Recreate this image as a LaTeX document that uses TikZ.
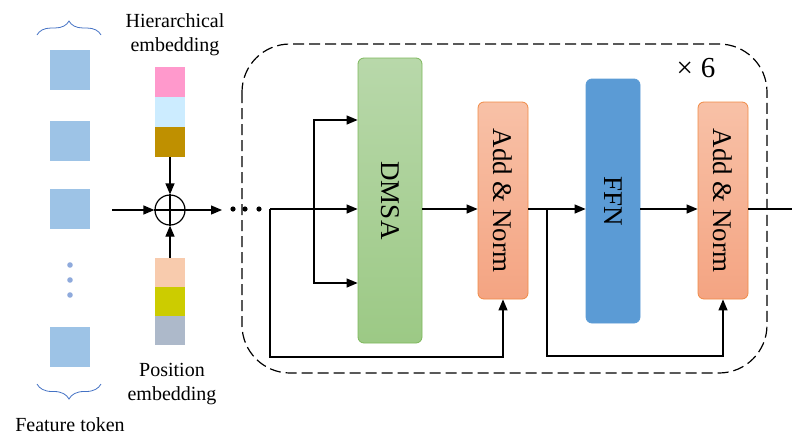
\documentclass[tikz,border=0pt]{standalone}
\usepackage{fontspec}
\setmainfont{Liberation Serif}
\usepackage{graphicx}
\usetikzlibrary{arrows.meta,decorations.pathreplacing}

\definecolor{tokblue}{HTML}{9DC3E6}
\definecolor{dotblue}{HTML}{8FAADC}
\definecolor{bracecol}{HTML}{4472C4}
\definecolor{hpink}{HTML}{FF99CC}
\definecolor{hsky}{HTML}{CCECFF}
\definecolor{hbrown}{HTML}{BF9000}
\definecolor{ppeach}{HTML}{F8CBAD}
\definecolor{polive}{HTML}{CCCC00}
\definecolor{pgrey}{HTML}{ADB9CA}
\definecolor{dmsatop}{HTML}{B8D8AA}
\definecolor{dmsabot}{HTML}{9CC985}
\definecolor{dmsaline}{HTML}{7DB85B}
\definecolor{normtop}{HTML}{F8C1A7}
\definecolor{normbot}{HTML}{F4A482}
\definecolor{normline}{HTML}{F08A45}
\definecolor{ffnblue}{HTML}{5B9BD5}

\tikzset{
  token/.style={fill=tokblue, minimum width=40pt, minimum height=40pt, inner sep=0pt},
  cell/.style={minimum width=30pt, minimum height=30pt, inner sep=0pt},
  block/.style={rounded corners=6pt, inner sep=0pt, line width=0.8pt, font=\fontsize{27}{32}\selectfont},
  normblock/.style={block, draw=normline, top color=normtop, bottom color=normbot, minimum width=50pt, minimum height=197pt},
  flow/.style={line width=1.2pt, -{Triangle[length=11pt,width=9pt]}},
  wire/.style={line width=1.2pt},
  lbl/.style={font=\fontsize{20}{24}\selectfont, align=center},
  brc/.style={bracecol, line width=0.8pt, decorate}
}

\begin{document}
\begin{tikzpicture}[x=1pt,y=-1pt]
    \useasboundingbox (0,0) rectangle (792,437);
    % Draw the feature tokens
    \node[token] (tok1) at (70,70) {};
    \node[token] (tok2) at (70,141) {};
    \node[token] (tok3) at (70,209) {};
    \node[token] (tok4) at (70,347) {};
    \foreach \y in {265,280,295} \fill[dotblue] (70,\y) circle (2.8pt);
    \draw[brc, decoration={brace,amplitude=14pt}] (37,35) -- (101,35);
    \draw[brc, decoration={brace,amplitude=15pt}] (101,384) -- (37,384);
    \node[lbl] (feattxt) at (70,425) {Feature token};

    % Hierarchical and position embeddings
    \node[lbl] (hiertxt) at (175,35) {Hierarchical\\embedding};
    \node[cell, fill=hpink] (h1) at (170,82) {};
    \node[cell, fill=hsky] (h2) at (170,112) {};
    \node[cell, fill=hbrown] (h3) at (170,142) {};
    \node[cell, fill=ppeach, minimum height=29pt] (p1) at (170,272.5) {};
    \node[cell, fill=polive, minimum height=29pt] (p2) at (170,301.5) {};
    \node[cell, fill=pgrey, minimum height=29pt] (p3) at (170,330.5) {};
    \node[lbl] (postxt) at (172,384) {Position\\embedding};

    % Sum of token and embeddings
    \node[circle, draw, line width=1.2pt, minimum size=30pt, inner sep=0pt] (plus) at (170,210) {};
    \draw[wire] (plus.north) -- (plus.south) (plus.west) -- (plus.east);
    \coordinate (feat) at (112,210);
    \coordinate (ell) at (222,210);
    \draw[flow] (feat) -- (plus.west);
    \draw[flow] (h3.south) -- (plus.north);
    \draw[flow] (p1.north) -- (plus.south);
    \draw[flow] (plus.east) -- (ell);
    \foreach \x in {233,245,259} \fill (\x,209) circle (2.6pt);

    % Encoder layer, repeated six times
    \draw[line width=1.2pt, dash pattern=on 11pt off 5pt, rounded corners=48pt] (242,44) rectangle (767,373);
    \node[font=\fontsize{29}{32}\selectfont] (times) at (696,68) {×\hspace{8pt}6};

    \node[block, draw=dmsaline, top color=dmsatop, bottom color=dmsabot, minimum width=64pt, minimum height=285pt] (dmsa) at (390,200.5) {\rotatebox{-90}{DMSA}};
    \node[normblock] (an1) at (503,200.5) {\rotatebox{-90}{Add \& Norm}};
    \node[block, draw=ffnblue, fill=ffnblue, minimum width=54pt, minimum height=244pt] (ffn) at (613,201) {\rotatebox{-90}{FFN}};
    \node[normblock] (an2) at (723,200.5) {\rotatebox{-90}{Add \& Norm}};

    % Connections inside the layer
    \coordinate (enc) at (270,209);
    \coordinate (fork) at (314,209);
    \coordinate (qin) at (314,120);
    \coordinate (vin) at (314,283);
    \coordinate (res1) at (0,357);
    \coordinate (fork2) at (547,209);
    \coordinate (res2) at (0,356);
    \coordinate (out) at (792,209);
    \draw[wire] (enc) -- (fork);
    \draw[flow] (fork) -- (fork -| dmsa.west);
    \draw[flow] (fork) |- (qin -| dmsa.west);
    \draw[flow] (fork) |- (vin -| dmsa.west);
    \draw[flow] (enc) -- (enc |- res1) -| (an1.south);
    \draw[flow] (fork -| dmsa.east) -- (fork -| an1.west);
    \draw[wire] (fork -| an1.east) -- (fork2);
    \draw[flow] (fork2) -- (fork2 -| ffn.west);
    \draw[flow] (fork2) -- (fork2 |- res2) -| (an2.south);
    \draw[flow] (fork -| ffn.east) -- (fork -| an2.west);
    \draw[wire] (fork -| an2.east) -- (out);
\end{tikzpicture}
\end{document}
